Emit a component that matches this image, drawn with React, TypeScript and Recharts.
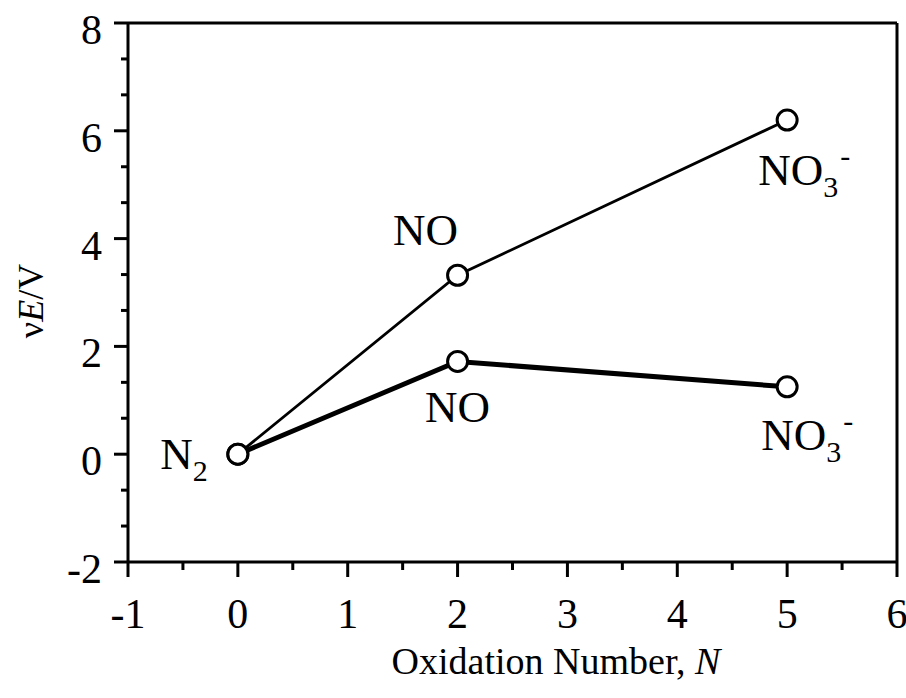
import { LineChart, Line, XAxis, YAxis, LabelList, Label, ReferenceLine } from "recharts";

// oxidation number of each species and the two ΔE/V curves
const oxidation = [0, 2, 5];
const speciesBase = ["N", "NO", "NO"];
const speciesSub = ["2", "", "3"];
const speciesSup = ["", "", "-"];
const upperE = [0, 3.32, 6.2];
const lowerE = [0, 1.72, 1.25];

const xTicks = [-1, -0.5, 0, 0.5, 1, 1.5, 2, 2.5, 3, 3.5, 4, 4.5, 5, 5.5, 6];
const yTicks = [-2, -1.333, -0.667, 0, 0.667, 1.333, 2, 2.667, 3.333, 4, 4.667, 5.333, 6, 6.667, 7.333, 8];

const rows = oxidation.map((n, i) => ({ n, upper: upperE[i], lower: lowerE[i] }));

const FONT = "'Liberation Serif', 'DejaVu Serif', serif";

// label placement around each marker: [dx, dy, anchor]
const upperPos: Record<number, [number, number, string]> = {
  1: [-32, -30, "middle"],
  2: [-29, 65, "start"],
};
const lowerPos: Record<number, [number, number, string]> = {
  0: [-30, 15, "end"],
  1: [0, 61, "middle"],
  2: [-26, 63, "start"],
};

function speciesLabel(pos: Record<number, [number, number, string]>) {
  return (props: any) => {
    const { x, y, index } = props;
    const p = pos[index];
    if (!p) return null;
    return (
      <text x={x + p[0]} y={y + p[1]} textAnchor={p[2]} fontFamily={FONT} fontSize={45} fill="#000">
        {speciesBase[index]}
        {speciesSub[index] && (
          <tspan dy={12} fontSize={30}>
            {speciesSub[index]}
          </tspan>
        )}
        {speciesSup[index] && (
          <tspan dy={-31} dx={2} fontSize={30}>
            {speciesSup[index]}
          </tspan>
        )}
      </text>
    );
  };
}

const XTick = (props: any) => {
  const { x, y, payload } = props;
  const major = Number.isInteger(payload.value);
  return (
    <g>
      <line x1={x} y1={y} x2={x} y2={y + (major ? 15 : 8)} stroke="#000" strokeWidth={3} />
      {major && (
        <text x={x} y={y + 66} textAnchor="middle" fontFamily={FONT} fontSize={42} fill="#000">
          {payload.value}
        </text>
      )}
    </g>
  );
};

const YTick = (props: any) => {
  const { x, y, payload } = props;
  const major = Number.isInteger(payload.value);
  return (
    <g>
      <line x1={x - (major ? 14 : 7)} y1={y} x2={x} y2={y} stroke="#000" strokeWidth={3} />
      {major && (
        <text x={x - 26} y={y + 21} textAnchor="end" fontFamily={FONT} fontSize={42} fill="#000">
          {payload.value}
        </text>
      )}
    </g>
  );
};

export default function App() {
  return (
    <div style={{ position: "absolute", left: 0, top: 0, background: "#fff" }}>
      <LineChart width={906} height={698} data={rows} margin={{ top: 23, right: 9, bottom: 0, left: 0 }}>
        <XAxis
          dataKey="n"
          type="number"
          domain={[-1, 6]}
          ticks={xTicks}
          interval={0}
          height={136}
          tickSize={0}
          tickMargin={0}
          tick={<XTick />}
          axisLine={{ stroke: "#000", strokeWidth: 3 }}
        >
          <Label
            content={() => (
              <text x={556} y={674} textAnchor="middle" fontFamily={FONT} fontSize={38} fill="#000">
                Oxidation Number, <tspan fontStyle="italic">N</tspan>
              </text>
            )}
          />
        </XAxis>
        <YAxis
          type="number"
          domain={[-2, 8]}
          ticks={yTicks}
          interval={0}
          width={128}
          tickSize={0}
          tickMargin={0}
          tick={<YTick />}
          axisLine={{ stroke: "#000", strokeWidth: 3 }}
        >
          <Label
            content={() => (
              <text
                x={31}
                y={301}
                textAnchor="middle"
                dominantBaseline="central"
                transform="rotate(-90 31 301)"
                fontFamily={FONT}
                fontSize={36}
                fill="#000"
              >
                ν<tspan fontStyle="italic">E</tspan>/V
              </text>
            )}
          />
        </YAxis>
        <ReferenceLine y={8} stroke="#000" strokeWidth={3} ifOverflow="visible" />
        <ReferenceLine x={6} stroke="#000" strokeWidth={3} ifOverflow="visible" />
        <Line
          dataKey="lower"
          stroke="#000"
          strokeWidth={5}
          isAnimationActive={false}
          dot={{ r: 10, fill: "#fff", stroke: "#000", strokeWidth: 3 }}
          activeDot={false}
        >
          <LabelList dataKey="lower" content={speciesLabel(lowerPos)} />
        </Line>
        <Line
          dataKey="upper"
          stroke="#000"
          strokeWidth={2.8}
          isAnimationActive={false}
          dot={{ r: 10, fill: "#fff", stroke: "#000", strokeWidth: 3 }}
          activeDot={false}
        >
          <LabelList dataKey="upper" content={speciesLabel(upperPos)} />
        </Line>
      </LineChart>
    </div>
  );
}
